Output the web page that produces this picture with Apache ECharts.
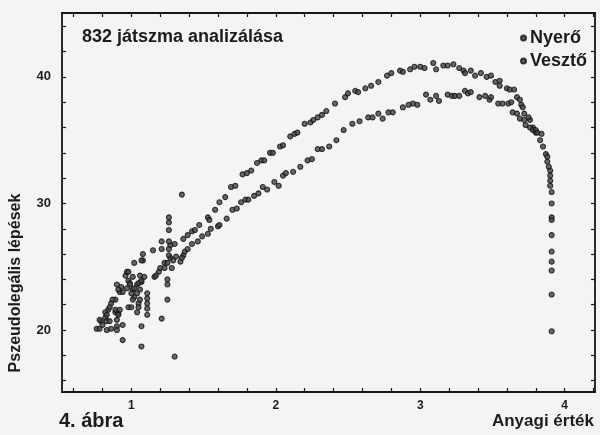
<!DOCTYPE html>
<html>
<head>
<meta charset="utf-8">
<script src="https://cdn.jsdelivr.net/npm/echarts@6/dist/echarts.min.js"></script>
<style>
html,body{margin:0;padding:0;background:#f4f4f2;}
#c{width:600px;height:435px;}
</style>
</head>
<body>
<div id="c"></div>
<script>
// Data: [Anyagi érték, Pszeudolegális lépések]
var nyeroCurve = [
 [1.08,25.5],[1.08,26.0],[1.15,26.3],[1.21,26.4],[1.27,26.7],[1.30,26.8],[1.36,27.2],[1.39,27.5],
 [1.42,27.8],[1.44,27.9],[1.47,28.3],[1.53,28.9],[1.54,28.7],[1.58,29.5],[1.61,30.1],[1.65,30.5],
 [1.69,31.3],[1.72,31.4],[1.77,32.3],[1.80,32.4],[1.83,32.6],[1.87,33.2],[1.90,33.4],[1.92,33.4],
 [1.96,34.0],[1.98,34.0],[2.03,34.5],[2.05,34.6],[2.10,35.3],[2.13,35.5],[2.15,35.6],[2.20,36.3],
 [2.24,36.4],[2.26,36.6],[2.29,36.8],[2.32,37.0],[2.35,37.3],[2.41,37.9],[2.48,38.4],[2.50,38.7],
 [2.55,38.9],[2.57,38.8],[2.62,39.1],[2.66,39.3],[2.71,39.6],[2.77,40.1],[2.80,40.3],[2.86,40.5],
 [2.88,40.4],[2.93,40.6],[2.96,40.8],[3.00,40.8],[3.03,40.7],[3.09,41.1],[3.11,40.6],[3.16,40.9],
 [3.19,40.9],[3.23,41.0],[3.27,40.7],[3.30,40.5],[3.31,40.3],[3.35,40.5],[3.38,40.1],[3.42,40.3],
 [3.46,40.0],[3.49,40.1],[3.52,39.6],[3.55,39.7],[3.55,39.3],[3.60,39.1],[3.62,39.0],[3.65,39.0],
 [3.67,38.4],[3.69,38.2],[3.70,37.8],[3.72,37.1],[3.76,36.6],[3.78,36.0],[3.80,35.6],[3.83,35.0],
 [3.85,34.5]
];
var nyeroCluster = [
 [0.92,23.0],[0.93,23.4],[0.96,24.3],[0.97,24.6],[0.98,23.9],[0.99,23.7],[1.01,23.2],[1.02,25.3],
 [1.04,23.6],[1.06,24.3],[1.07,25.5],[1.07,23.8],[1.09,24.2],[1.16,24.2],[1.19,24.6],[1.23,25.3],
 [1.27,25.7],[1.28,24.9],[1.34,25.4],[1.36,25.9],[1.26,28.9],[1.26,28.5],[1.26,27.9],[1.26,27.0],
 [1.26,26.4],[1.26,25.9],[1.21,27.0],[1.35,30.7],[0.98,24.6],[1.01,24.2],[1.05,23.7],[1.02,23.3],
 [1.07,23.9],[0.99,23.6],[0.97,23.3],[0.94,23.0],[0.90,23.6],[0.91,23.2]
];
var vesztoCurve = [
 [1.17,24.3],[1.20,24.9],[1.23,24.9],[1.25,25.3],[1.29,25.5],[1.31,25.8],[1.35,25.7],[1.37,26.2],
 [1.39,26.4],[1.42,26.8],[1.46,27.0],[1.49,27.4],[1.53,27.6],[1.55,28.0],[1.60,28.2],[1.61,28.3],
 [1.66,28.8],[1.70,29.5],[1.73,29.6],[1.76,30.1],[1.79,30.3],[1.81,30.3],[1.85,30.6],[1.88,30.8],
 [1.91,31.3],[1.94,31.1],[1.99,31.7],[2.02,31.4],[2.05,32.2],[2.07,32.4],[2.12,32.5],[2.17,32.9],
 [2.22,33.4],[2.25,33.5],[2.29,34.3],[2.32,34.3],[2.37,34.5],[2.42,35.0],[2.47,35.8],[2.53,36.3],
 [2.58,36.5],[2.64,36.8],[2.67,36.8],[2.71,37.1],[2.74,36.7],[2.78,37.2],[2.81,37.2],[2.88,37.6],
 [2.92,37.8],[2.95,37.9],[2.98,37.8],[3.04,38.6],[3.07,38.2],[3.11,38.5],[3.13,38.1],[3.19,38.6],
 [3.22,38.5],[3.24,38.5],[3.27,38.5],[3.31,38.9],[3.33,38.7],[3.35,38.8],[3.41,38.4],[3.45,38.5],
 [3.48,38.2],[3.49,38.4],[3.54,37.9],[3.57,37.9],[3.61,37.9],[3.63,38.0],[3.64,37.2],[3.67,37.1],
 [3.71,37.6],[3.69,36.7],[3.72,36.6],[3.75,36.8],[3.73,36.2],[3.76,36.0],[3.78,35.8],[3.80,35.8],
 [3.81,35.6],[3.84,35.5],[3.87,33.9],[3.88,33.7],[3.88,33.3],[3.89,32.9],[3.90,32.6],[3.90,32.2],
 [3.90,31.8],[3.90,31.4],[3.91,30.9],[3.91,30.0],[3.91,28.9],[3.91,28.7],[3.91,27.5],[3.91,26.2],
 [3.91,25.4],[3.91,24.7],[3.91,22.8],[3.91,19.9]
];
var vesztoCluster = [
 [0.76,20.1],[0.78,20.1],[0.79,20.7],[0.82,21.0],[0.83,20.7],[0.83,20.0],[0.84,21.6],[0.86,22.1],
 [0.86,20.1],[0.89,22.4],[0.89,21.4],[0.90,20.3],[0.90,20.0],[0.91,21.3],[0.94,20.4],[0.94,19.2],
 [0.98,21.8],[1.02,22.6],[1.04,21.4],[1.05,22.1],[1.06,23.2],[1.07,20.3],[1.07,18.7],[1.11,22.9],
 [1.11,22.5],[1.11,22.1],[1.11,21.7],[1.11,21.2],[1.21,20.9],[1.25,24.0],[1.25,23.6],[1.25,22.4],
 [1.30,17.9],[0.87,22.4],[0.85,21.8],[0.82,21.4],[0.78,20.8],[0.83,21.2],[0.89,21.6],[0.92,21.6],
 [0.91,21.2],[0.90,20.8],[0.85,20.7],[0.80,20.4],[1.00,22.9],[1.01,22.4],[1.04,22.9],[1.06,22.4],
 [1.05,21.8],[1.00,21.8]
];
var seriesNames = ['Nyerő', 'Vesztő'];
var xTickValues = [0.6,0.8,1,1.2,1.4,1.6,1.8,2,2.2,2.4,2.6,2.8,3,3.2,3.4,3.6,3.8,4,4.2];
var xLabelValues = [1,2,3,4];
var yTickValues = [16,18,20,22,24,26,28,30,32,34,36,38,40,42,44];
var yLabelValues = [20,30,40];

var chart = echarts.init(document.getElementById('c'), null, {renderer:'canvas'});
var FONT = '"Liberation Sans", Arial, sans-serif';
var ink = '#151515';
var textInk = '#1c1c1c';
var markerStyle = {color:'#454545', borderColor:'#111111', borderWidth:1.1};

function axisBase(extra){
  return Object.assign({
    type:'value',
    axisLine:{show:true, onZero:false, lineStyle:{color:ink, width:1.8}},
    splitLine:{show:false},
    axisTick:{show:true, inside:true, length:4, lineStyle:{color:ink, width:1.2}},
    axisLabel:{show:false}
  }, extra);
}

chart.setOption({
  backgroundColor:'#f4f4f2',
  animation:false,
  title:{
    text:'832 játszma analizálása',
    left:77, top:23,
    textStyle:{fontFamily:FONT, fontSize:18, fontWeight:'bold', color:textInk}
  },
  legend:{
    data:seriesNames,
    orient:'vertical',
    left:515, top:24,
    itemWidth:5, itemHeight:5, itemGap:5,
    icon:'circle',
    textStyle:{fontFamily:FONT, fontSize:18, fontWeight:'bold', color:textInk, padding:[0,0,0,-1]}
  },
  grid:{left:62, top:13, right:5, bottom:43, containLabel:false},
  xAxis:[
    axisBase({
      min:0.52, max:4.21,
      axisTick:{show:true, inside:true, length:4, customValues:xTickValues, lineStyle:{color:ink, width:1.2}},
      axisLabel:{show:true, customValues:xLabelValues, margin:8, fontFamily:FONT, fontSize:12, fontWeight:'bold', color:textInk}
    }),
    axisBase({
      min:0.52, max:4.21, position:'top',
      axisTick:{show:true, inside:true, length:4, customValues:xTickValues, lineStyle:{color:ink, width:1.2}}
    })
  ],
  yAxis:[
    axisBase({
      min:15.1, max:45.05,
      axisTick:{show:true, inside:true, length:4, customValues:yTickValues, lineStyle:{color:ink, width:1.2}},
      axisLabel:{show:true, customValues:yLabelValues, margin:11, fontFamily:FONT, fontSize:13, fontWeight:'bold', color:textInk}
    }),
    axisBase({
      min:15.1, max:45.05, position:'right',
      axisTick:{show:true, inside:true, length:4, customValues:yTickValues, lineStyle:{color:ink, width:1.2}}
    })
  ],
  graphic:[
    {type:'text', x:16, y:283, rotation:Math.PI/2,
     style:{text:'Pszeudolegális lépések', x:0, y:0, align:'center', verticalAlign:'middle',
            font:'bold 16px "Liberation Sans", Arial, sans-serif', fill:textInk}},
    {type:'text', x:59, y:421,
     style:{text:'4. ábra', align:'left', verticalAlign:'middle',
            font:'bold 20px "Liberation Sans", Arial, sans-serif', fill:textInk}},
    {type:'text', x:594, y:421,
     style:{text:'Anyagi érték', align:'right', verticalAlign:'middle',
            font:'bold 17px "Liberation Sans", Arial, sans-serif', fill:textInk}}
  ],
  series:[
    {name:seriesNames[0], type:'scatter', symbol:'circle', symbolSize:5,
     data:nyeroCurve.concat(nyeroCluster), itemStyle:markerStyle},
    {name:seriesNames[1], type:'scatter', symbol:'circle', symbolSize:5,
     data:vesztoCurve.concat(vesztoCluster), itemStyle:markerStyle}
  ]
});
</script>
</body>
</html>
